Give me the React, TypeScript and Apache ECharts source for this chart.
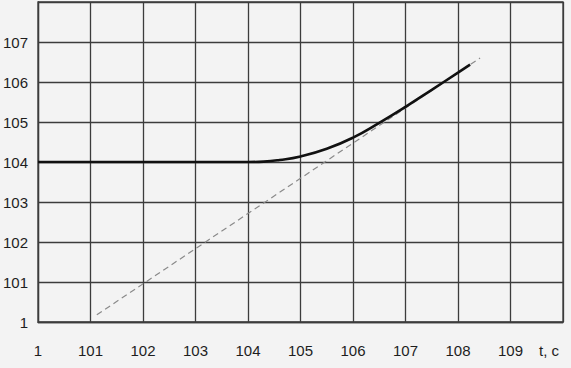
import React, { useEffect, useRef } from "react";
import * as echarts from "echarts";

// Tick labels (positions are tick indices along each axis)
const xTickLabels = ["1", "101", "102", "103", "104", "105", "106", "107", "108", "109"];
const yTickLabels = ["1", "101", "102", "103", "104", "105", "106", "107"];
const xAxisName = "t, c";

// Solid response curve (in tick-index units)
const curveX = [0, 3.6, 4.0, 4.3, 4.6, 5.0, 5.5, 6.0, 6.5, 7.0, 7.5, 8.0, 8.23];
const curveY = [4.0, 4.0, 4.0, 4.01, 4.05, 4.14, 4.33, 4.61, 4.98, 5.38, 5.805, 6.235, 6.435];

// Dashed asymptote
const asymX = [1.12, 8.42];
const asymY = [0.18, 6.6];

const FONT = '"Liberation Sans", Arial, Helvetica, sans-serif';

export default function App() {
  const ref = useRef<HTMLDivElement>(null);
  useEffect(() => {
    if (!ref.current) return;
    const chart = echarts.init(ref.current, null, { renderer: "svg" });
    const gridColor = "#3c3c3c";
    chart.setOption({
      animation: false,
      backgroundColor: "#f3f3f3",
      grid: {
        left: 38,
        right: 8,
        top: 2,
        bottom: 46,
        show: true,
        borderColor: gridColor,
        borderWidth: 1.3,
        backgroundColor: "transparent",
      },
      xAxis: {
        type: "value",
        min: 0,
        max: 10,
        interval: 1,
        axisLine: { show: true, lineStyle: { color: gridColor, width: 1.3 } },
        axisTick: { show: false },
        splitLine: { show: true, lineStyle: { color: gridColor, width: 1.3 } },
        axisLabel: {
          margin: 21,
          color: "#1e1e1e",
          fontSize: 15,
          fontFamily: FONT,
          formatter: (v: number) => xTickLabels[Math.round(v)] ?? "",
        },
      },
      yAxis: {
        type: "value",
        min: 0,
        max: 8,
        interval: 1,
        axisLine: { show: true, lineStyle: { color: gridColor, width: 1.3 } },
        axisTick: { show: false },
        splitLine: { show: true, lineStyle: { color: gridColor, width: 1.3 } },
        axisLabel: {
          margin: 10,
          color: "#1e1e1e",
          fontSize: 15,
          fontFamily: FONT,
          formatter: (v: number) => yTickLabels[Math.round(v)] ?? "",
        },
      },
      graphic: [
        {
          type: "text",
          x: 539,
          y: 350,
          style: {
            text: xAxisName,
            fill: "#1e1e1e",
            font: `15px ${FONT}`,
            align: "left",
            verticalAlign: "middle",
          },
        },
      ],
      series: [
        {
          type: "line",
          data: asymX.map((x, i) => [x, asymY[i]]),
          showSymbol: false,
          silent: true,
          lineStyle: { color: "#8a8a8a", width: 1.2, type: [6, 4] },
          z: 2,
        },
        {
          type: "line",
          data: curveX.map((x, i) => [x, curveY[i]]),
          showSymbol: false,
          smooth: 0.5,
          silent: true,
          lineStyle: { color: "#111", width: 2.6 },
          z: 3,
        },
      ],
    });
    return () => chart.dispose();
  }, []);
  return (
    <div
      ref={ref}
      style={{ position: "fixed", left: 0, top: 0, width: 571, height: 368 }}
    />
  );
}
